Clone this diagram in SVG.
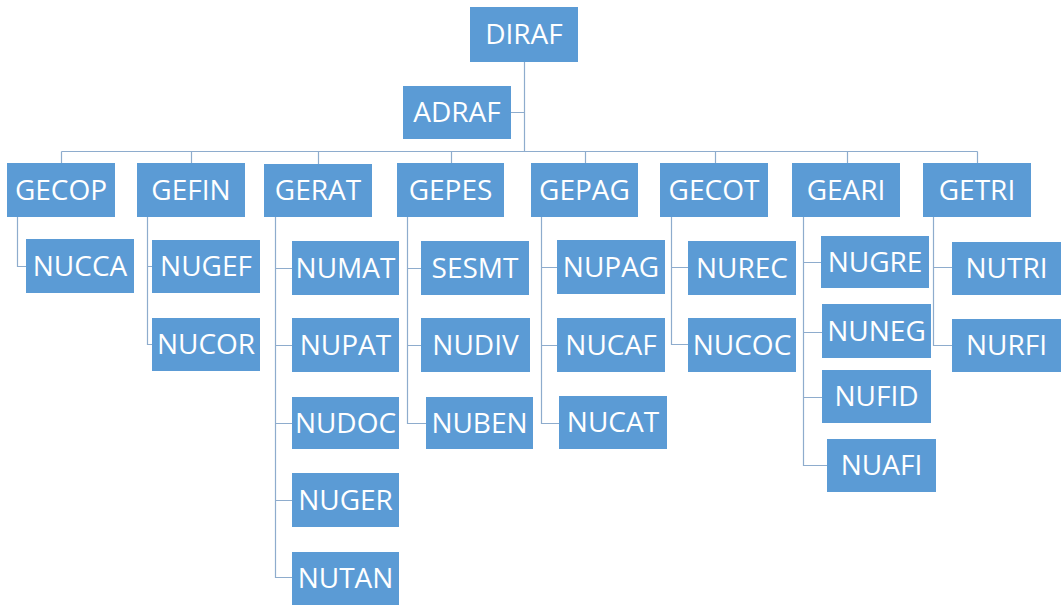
<svg xmlns="http://www.w3.org/2000/svg" width="1061" height="605" viewBox="0 0 1061 605">
<style>
.b{fill:#5B9BD5}
.t{fill:#fff;font-family:"Open Sans","Liberation Sans",sans-serif;font-size:28px;text-anchor:middle}
.c{stroke:#8EACCD;stroke-width:1.2;fill:none}
</style>
<rect width="1061" height="605" fill="#fff"/>
<g id="connectors" class="c">
<path d="M524.5,62V151.5M511,112.5H524.5M61.5,151.5H977.5"/>
<path d="M61.5,151.5V163M191.5,151.5V163M318.5,151.5V164M451.5,151.5V163M585.5,151.5V163M715.5,151.5V163M847.5,151.5V163M977.5,151.5V163"/>
<path d="M17.5,217V266.5H26"/>
<path d="M147.5,216V344.5H152M147.5,266.5H152"/>
<path d="M275.5,217V577.5H292M275.5,268.5H292M275.5,345.5H292M275.5,423.5H292M275.5,500.5H292"/>
<path d="M407.5,217V423.5H426M407.5,268.5H421M407.5,345.5H421"/>
<path d="M541.5,217V423.5H559M541.5,267.5H557M541.5,345.5H557"/>
<path d="M671.5,217V344.5H688M671.5,267.5H688"/>
<path d="M803.5,217V465.5H827M803.5,262.5H821M803.5,332.5H822M803.5,397.5H822"/>
<path d="M933.5,217V345.5H952M933.5,267.5H952"/>
</g>
<g id="DIRAF"><rect class="b" x="470" y="7" width="108" height="55"/><text class="t" x="524" y="44">DIRAF</text></g>
<g id="ADRAF"><rect class="b" x="403" y="86" width="108" height="53"/><text class="t" x="457" y="122">ADRAF</text></g>
<g id="GECOP"><rect class="b" x="7" y="163" width="108" height="54"/><text class="t" x="61" y="200">GECOP</text></g>
<g id="GEFIN"><rect class="b" x="137" y="163" width="108" height="54"/><text class="t" x="191" y="200">GEFIN</text></g>
<g id="GERAT"><rect class="b" x="264" y="164" width="108" height="53"/><text class="t" x="318" y="200">GERAT</text></g>
<g id="GEPES"><rect class="b" x="397" y="163" width="107" height="54"/><text class="t" x="450.5" y="200">GEPES</text></g>
<g id="GEPAG"><rect class="b" x="531" y="163" width="107" height="54"/><text class="t" x="584.5" y="200">GEPAG</text></g>
<g id="GECOT"><rect class="b" x="660" y="163" width="108" height="54"/><text class="t" x="714" y="200">GECOT</text></g>
<g id="GEARI"><rect class="b" x="792" y="163" width="108" height="54"/><text class="t" x="846" y="200">GEARI</text></g>
<g id="GETRI"><rect class="b" x="923" y="163" width="108" height="54"/><text class="t" x="977" y="200">GETRI</text></g>
<g id="NUCCA"><rect class="b" x="26" y="239" width="108" height="54"/><text class="t" x="80" y="276">NUCCA</text></g>
<g id="NUGEF"><rect class="b" x="152" y="240" width="108" height="53"/><text class="t" x="206" y="276">NUGEF</text></g>
<g id="NUCOR"><rect class="b" x="152" y="318" width="108" height="53"/><text class="t" x="206" y="354">NUCOR</text></g>
<g id="NUMAT"><rect class="b" x="292" y="241" width="107" height="54"/><text class="t" x="345.5" y="278">NUMAT</text></g>
<g id="NUPAT"><rect class="b" x="292" y="318" width="107" height="54"/><text class="t" x="345.5" y="355">NUPAT</text></g>
<g id="NUDOC"><rect class="b" x="292" y="397" width="107" height="52"/><text class="t" x="345.5" y="433">NUDOC</text></g>
<g id="NUGER"><rect class="b" x="292" y="473" width="107" height="54"/><text class="t" x="345.5" y="510">NUGER</text></g>
<g id="NUTAN"><rect class="b" x="292" y="552" width="107" height="53"/><text class="t" x="345.5" y="588">NUTAN</text></g>
<g id="SESMT"><rect class="b" x="421" y="241" width="108" height="54"/><text class="t" x="475" y="278">SESMT</text></g>
<g id="NUDIV"><rect class="b" x="421" y="318" width="109" height="54"/><text class="t" x="475.5" y="355">NUDIV</text></g>
<g id="NUBEN"><rect class="b" x="426" y="397" width="107" height="52"/><text class="t" x="479.5" y="433">NUBEN</text></g>
<g id="NUPAG"><rect class="b" x="557" y="240" width="108" height="54"/><text class="t" x="611" y="277">NUPAG</text></g>
<g id="NUCAF"><rect class="b" x="557" y="318" width="108" height="54"/><text class="t" x="611" y="355">NUCAF</text></g>
<g id="NUCAT"><rect class="b" x="559" y="396" width="108" height="53"/><text class="t" x="613" y="432">NUCAT</text></g>
<g id="NUREC"><rect class="b" x="688" y="241" width="108" height="54"/><text class="t" x="742" y="278">NUREC</text></g>
<g id="NUCOC"><rect class="b" x="688" y="318" width="108" height="54"/><text class="t" x="742" y="355">NUCOC</text></g>
<g id="NUGRE"><rect class="b" x="821" y="236" width="108" height="52"/><text class="t" x="875" y="272">NUGRE</text></g>
<g id="NUNEG"><rect class="b" x="822" y="304" width="109" height="54"/><text class="t" x="876.5" y="341">NUNEG</text></g>
<g id="NUFID"><rect class="b" x="822" y="370" width="109" height="53"/><text class="t" x="876.5" y="406">NUFID</text></g>
<g id="NUAFI"><rect class="b" x="827" y="439" width="109" height="53"/><text class="t" x="881.5" y="475">NUAFI</text></g>
<g id="NUTRI"><rect class="b" x="952" y="242" width="109" height="53"/><text class="t" x="1006.5" y="278">NUTRI</text></g>
<g id="NURFI"><rect class="b" x="952" y="319" width="109" height="53"/><text class="t" x="1006.5" y="355">NURFI</text></g>
</svg>
